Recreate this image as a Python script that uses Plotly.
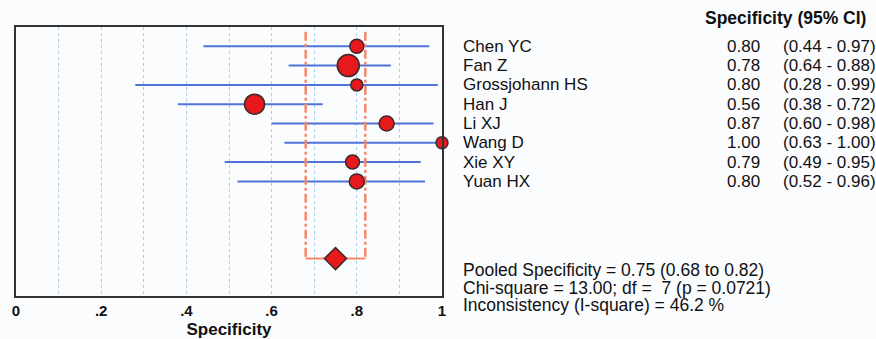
import plotly.graph_objects as go

# ---- data ----
studies = ["Chen YC", "Fan Z", "Grossjohann HS", "Han J", "Li XJ", "Wang D", "Xie XY", "Yuan HX"]
spec = [0.80, 0.78, 0.80, 0.56, 0.87, 1.00, 0.79, 0.80]
ci_low = [0.44, 0.64, 0.28, 0.38, 0.60, 0.63, 0.49, 0.52]
ci_high = [0.97, 0.88, 0.99, 0.72, 0.98, 1.00, 0.95, 0.96]
weights = [14, 22, 12, 20, 15, 12, 14, 15]  # relative study weight (marker size)
pooled = 0.75
pooled_low = 0.68
pooled_high = 0.82
stats_lines = [
    "Pooled Specificity = 0.75 (0.68 to 0.82)",
    "Chi-square = 13.00; df =  7 (p = 0.0721)",
    "Inconsistency (I-square) = 46.2 %",
]
tick_vals = [0, 0.2, 0.4, 0.6, 0.8, 1.0]
tick_text = ["0", ".2", ".4", ".6", ".8", "1"]

rows = list(range(1, len(studies) + 1))
pooled_row = 12

FONT = "Liberation Sans, Arial, sans-serif"
BLUE = "#4f73d8"
SALMON = "#f3896a"
RED = "#e8191c"
EDGE = "#3a2a2a"

fig = go.Figure()

# CI lines
for r, lo, hi in zip(rows, ci_low, ci_high):
    fig.add_trace(go.Scatter(x=[lo, hi], y=[r, r], mode="lines",
                             line=dict(color=BLUE, width=2), hoverinfo="skip",
                             showlegend=False))

# pooled CI lines (dash-dot verticals + horizontal)
for v in (pooled_low, pooled_high):
    fig.add_trace(go.Scatter(x=[v, v], y=[0.25, pooled_row], mode="lines",
                             line=dict(color=SALMON, width=2.5, dash="dashdot"),
                             hoverinfo="skip", showlegend=False))
fig.add_trace(go.Scatter(x=[pooled_low, pooled_high], y=[pooled_row, pooled_row], mode="lines",
                         line=dict(color=SALMON, width=2), hoverinfo="skip", showlegend=False))

# study points
fig.add_trace(go.Scatter(x=spec, y=rows, mode="markers",
                         marker=dict(size=weights, color=RED, opacity=1,
                                     line=dict(color=EDGE, width=1.5)),
                         cliponaxis=False, showlegend=False))

# pooled diamond
fig.add_trace(go.Scatter(x=[pooled], y=[pooled_row], mode="markers",
                         marker=dict(symbol="diamond", size=17, color=RED, opacity=1,
                                     line=dict(color=EDGE, width=1.5)),
                         showlegend=False))

txt = dict(family=FONT, size=17, color="#111")
annotations = []
# header
annotations.append(dict(x=2.0, y=1.0335, xref="paper", yref="paper",
                        text="Specificity (95% CI)",
                        showarrow=False, xanchor="right", yanchor="middle",
                        font=dict(family=FONT, size=17.5, color="#111", weight="bold")))
for r, name, s, lo, hi in zip(rows, studies, spec, ci_low, ci_high):
    annotations.append(dict(x=1.0446, y=r, xref="paper", yref="y", text=name, showarrow=False,
                            xanchor="left", yanchor="middle", font=txt))
    annotations.append(dict(x=1.7512, y=r, xref="paper", yref="y", text=f"{s:.2f}", showarrow=False,
                            xanchor="right", yanchor="middle", font=txt))
    annotations.append(dict(x=1.7958, y=r, xref="paper", yref="y", text=f"({lo:.2f} - {hi:.2f})",
                            showarrow=False, xanchor="left", yanchor="middle", font=txt))
for yy, line in zip([0.0967, 0.0297, -0.0335], stats_lines):
    annotations.append(dict(x=1.0446, y=yy, xref="paper", yref="paper", text=line, showarrow=False,
                            xanchor="left", yanchor="middle",
                            font=dict(family=FONT, size=17.5, color="#111")))

fig.update_layout(
    width=876, height=339, autosize=False,
    margin=dict(l=16, r=434, t=27, b=43, pad=0),
    paper_bgcolor="#fbfcfe", plot_bgcolor="#fbfcfe",
    annotations=annotations,
    showlegend=False,
    xaxis=dict(range=[0, 1], tickvals=tick_vals, ticktext=tick_text, automargin=False,
               showline=True, mirror=True, linecolor="#333333", linewidth=2,
               showgrid=True, gridcolor="#a9cfe3", griddash="dot", gridwidth=1,
               minor=dict(tick0=0.1, dtick=0.2, showgrid=True, gridcolor="#a9cfe3", griddash="dot"),
               zeroline=False, ticks="", ticklabelstandoff=0,
               tickfont=dict(family=FONT, size=15, color="#111", weight="bold"),
               title=dict(text="Specificity", standoff=6,
                          font=dict(family=FONT, size=17, color="#111", weight="bold"))),
    yaxis=dict(range=[13.94, 0], showline=True, mirror=True, linecolor="#333333", linewidth=2,
               automargin=False,
               showgrid=False, zeroline=False, showticklabels=False, ticks=""),
)

# remove the default 8px page margin so the figure fills the window exactly
fig.write_html("out.html", config={"displayModeBar": False},
               post_script="document.body.style.margin='0';")
